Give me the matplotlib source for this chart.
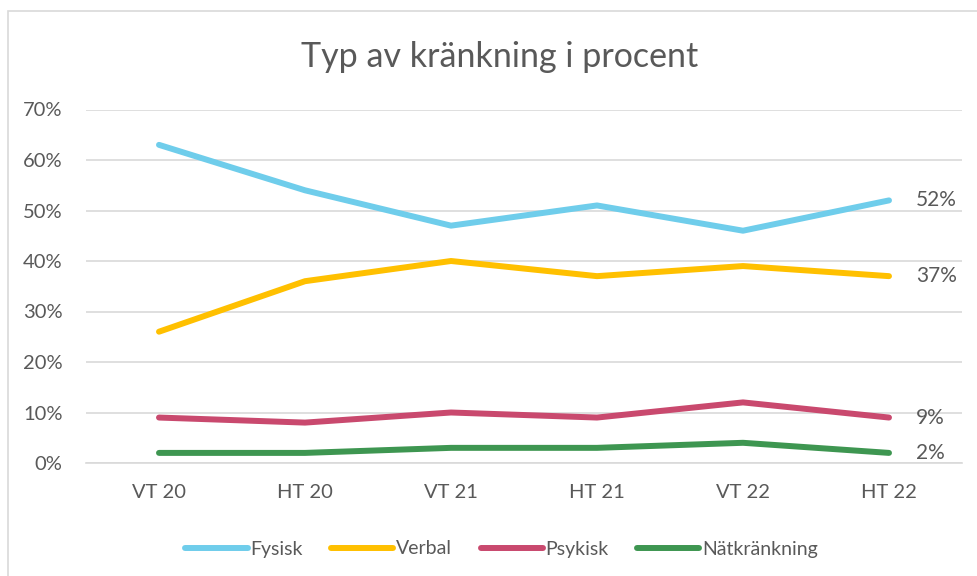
import matplotlib
matplotlib.use('Agg')
import matplotlib.pyplot as plt
from matplotlib.patches import Rectangle
from matplotlib.ticker import PercentFormatter

plt.rcParams['font.family'] = ['Lato', 'DejaVu Sans']

terms = ['VT 20', 'HT 20', 'VT 21', 'HT 21', 'VT 22', 'HT 22']
fysisk = [63, 54, 47, 51, 46, 52]
verbal = [26, 36, 40, 37, 39, 37]
psykisk = [9, 8, 10, 9, 12, 9]
natkrankning = [2, 2, 3, 3, 4, 2]

series = [('Fysisk', fysisk, '#6FCDEB'),
          ('Verbal', verbal, '#FFC000'),
          ('Psykisk', psykisk, '#C9496E'),
          ('Nätkränkning', natkrankning, '#3E9651')]

grey = '#595959'

fig = plt.figure(figsize=(9.78, 5.76), dpi=100)
ax = fig.add_axes([86 / 978, 1 - 463 / 576, 876 / 978, 353.5 / 576])

# chart border
fig.patches.append(Rectangle((8 / 978, -0.05), 1.0, 0.05 + 1 - 11 / 576,
                             transform=fig.transFigure, fill=False,
                             edgecolor='#D9D9D9', linewidth=1.2))

x = range(len(terms))
for name, vals, col in series:
    ax.plot(x, vals, color=col, linewidth=4.3, solid_capstyle='round',
            solid_joinstyle='round', label=name)
    ax.annotate(f'{vals[-1]}%', (x[-1], vals[-1]), xytext=(27, 0),
                textcoords='offset pixels', ha='left', va='center',
                fontsize=15, color=grey)

ax.set_xlim(-0.5, len(terms) - 0.5)
ax.set_ylim(0, 70)
ax.set_yticks(range(0, 71, 10))
ax.yaxis.set_major_formatter(PercentFormatter(decimals=0))
ax.set_xticks(list(x))
ax.set_xticklabels(terms)
ax.grid(axis='y', color='#D9D9D9', linewidth=1.2)
ax.set_axisbelow(True)
for s in ['top', 'right', 'left']:
    ax.spines[s].set_visible(False)
ax.spines['bottom'].set_color('#D9D9D9')
ax.spines['bottom'].set_linewidth(1.2)
ax.tick_params(axis='both', length=0, labelsize=14.5, labelcolor=grey)
ax.tick_params(axis='y', pad=17)
ax.tick_params(axis='x', pad=15)

fig.text(0.511, 1 - 57 / 576, 'Typ av kränkning i procent', ha='center',
         va='center', fontsize=24.5, color=grey)

fig.legend(loc='center', bbox_to_anchor=(0.513, 1 - 549 / 576), ncol=4,
           frameon=False, fontsize=14, labelcolor=grey, handlelength=3.2,
           handletextpad=0.15, columnspacing=1.45)

plt.savefig('out.png', dpi=100)
